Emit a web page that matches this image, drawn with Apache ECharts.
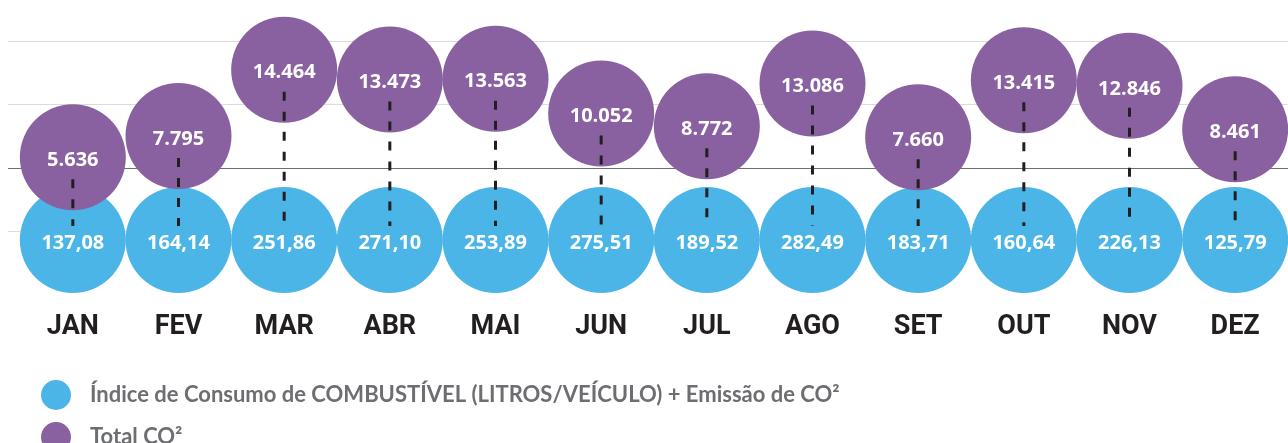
<!DOCTYPE html>
<html>
<head>
<meta charset="utf-8">
<script src="https://cdn.jsdelivr.net/npm/echarts@6/dist/echarts.min.js"></script>
<style>
html, body { margin: 0; padding: 0; background: #fff; }
#main { width: 1288px; height: 443px; }
</style>
</head>
<body>
<div id="main"></div>
<script>
// dados do gráfico
var months = ['JAN', 'FEV', 'MAR', 'ABR', 'MAI', 'JUN', 'JUL', 'AGO', 'SET', 'OUT', 'NOV', 'DEZ'];
var consumo = [137.08, 164.14, 251.86, 271.10, 253.89, 275.51, 189.52, 282.49, 183.71, 160.64, 226.13, 125.79];
var totalCO2 = [5.636, 7.795, 14.464, 13.473, 13.563, 10.052, 8.772, 13.086, 7.660, 13.415, 12.846, 8.461];
var nomeConsumo = 'Índice de Consumo de COMBUSTÍVEL (LITROS/VEÍCULO) + Emissão de CO²';
var nomeCO2 = 'Total CO²';

var Y_MIN = -2.7;   // linha base dos círculos azuis
var Y_MAX = 20;

var myChart = echarts.init(document.getElementById('main'));

function legenda(nome, top) {
    return {
        left: 36,
        top: top,
        itemWidth: 30,
        itemHeight: 30,
        icon: 'circle',
        selectedMode: false,
        data: [nome],
        textStyle: {
            color: '#6d6e71',
            fontSize: 22,
            fontWeight: 'bold',
            fontFamily: 'Lato',
            padding: [0, 0, 0, 14]
        }
    };
}

var option = {
    animation: false,
    backgroundColor: '#fff',
    legend: [legenda(nomeConsumo, 375), legenda(nomeCO2, 417)],
    grid: [
        {left: 20, right: 0, top: 14.9, bottom: 203},
        {left: 8, right: 0, top: 41.5, bottom: 212}
    ],
    xAxis: [
        {
            type: 'category',
            gridIndex: 0,
            data: months,
            axisLine: {show: false},
            axisTick: {show: false},
            splitLine: {show: false},
            axisLabel: {
                margin: 74,
                color: '#231f20',
                fontSize: 27,
                fontWeight: 'bold',
                fontFamily: 'Roboto'
            }
        },
        {type: 'value', gridIndex: 1, show: false, min: 0, max: 1}
    ],
    yAxis: [
        {type: 'value', gridIndex: 0, min: Y_MIN, max: Y_MAX, show: false},
        {
            type: 'value',
            gridIndex: 1,
            min: 0,
            max: 3,
            interval: 1,
            axisLine: {show: false},
            axisTick: {show: false},
            axisLabel: {show: false},
            splitLine: {
                show: true,
                lineStyle: {color: ['#dcdcdc', '#6e6e6e', '#dcdcdc', '#dcdcdc'], width: 1}
            }
        }
    ],
    series: [
        {
            name: nomeConsumo,
            type: 'scatter',
            xAxisIndex: 0,
            yAxisIndex: 0,
            z: 2,
            symbolSize: 106,
            itemStyle: {color: '#4cb5e7', opacity: 1},
            data: consumo.map(function (v, i) { return [i, Y_MIN, v]; }),
            label: {
                show: true,
                position: 'inside',
                offset: [0, 3],
                color: '#fff',
                fontSize: 20,
                fontWeight: 'bold',
                fontFamily: 'Open Sans',
                formatter: function (p) { return p.value[2].toFixed(2).replace('.', ','); }
            },
            emphasis: {disabled: true}
        },
        {
            name: nomeCO2,
            type: 'scatter',
            xAxisIndex: 0,
            yAxisIndex: 0,
            z: 3,
            symbolSize: 106,
            itemStyle: {color: '#8961a0', opacity: 1},
            data: totalCO2.map(function (v, i) { return [i, v]; }),
            label: {
                show: true,
                position: 'inside',
                offset: [0, 3],
                color: '#fff',
                fontSize: 20,
                fontWeight: 'bold',
                fontFamily: 'Open Sans',
                formatter: function (p) { return p.value[1].toFixed(3); }
            },
            emphasis: {disabled: true}
        },
        {
            // linhas tracejadas ligando os círculos
            type: 'custom',
            xAxisIndex: 0,
            yAxisIndex: 0,
            z: 4,
            silent: true,
            data: totalCO2.map(function (v, i) { return [i, v]; }),
            renderItem: function (params, api) {
                var top = api.coord([api.value(0), api.value(1)]);
                var base = api.coord([api.value(0), Y_MIN]);
                return {
                    type: 'line',
                    shape: {x1: top[0], y1: top[1] + 22, x2: base[0], y2: base[1] - 14},
                    style: {stroke: '#231f20', lineWidth: 3, lineDash: [9, 11]}
                };
            }
        }
    ]
};

myChart.setOption(option);
</script>
</body>
</html>
